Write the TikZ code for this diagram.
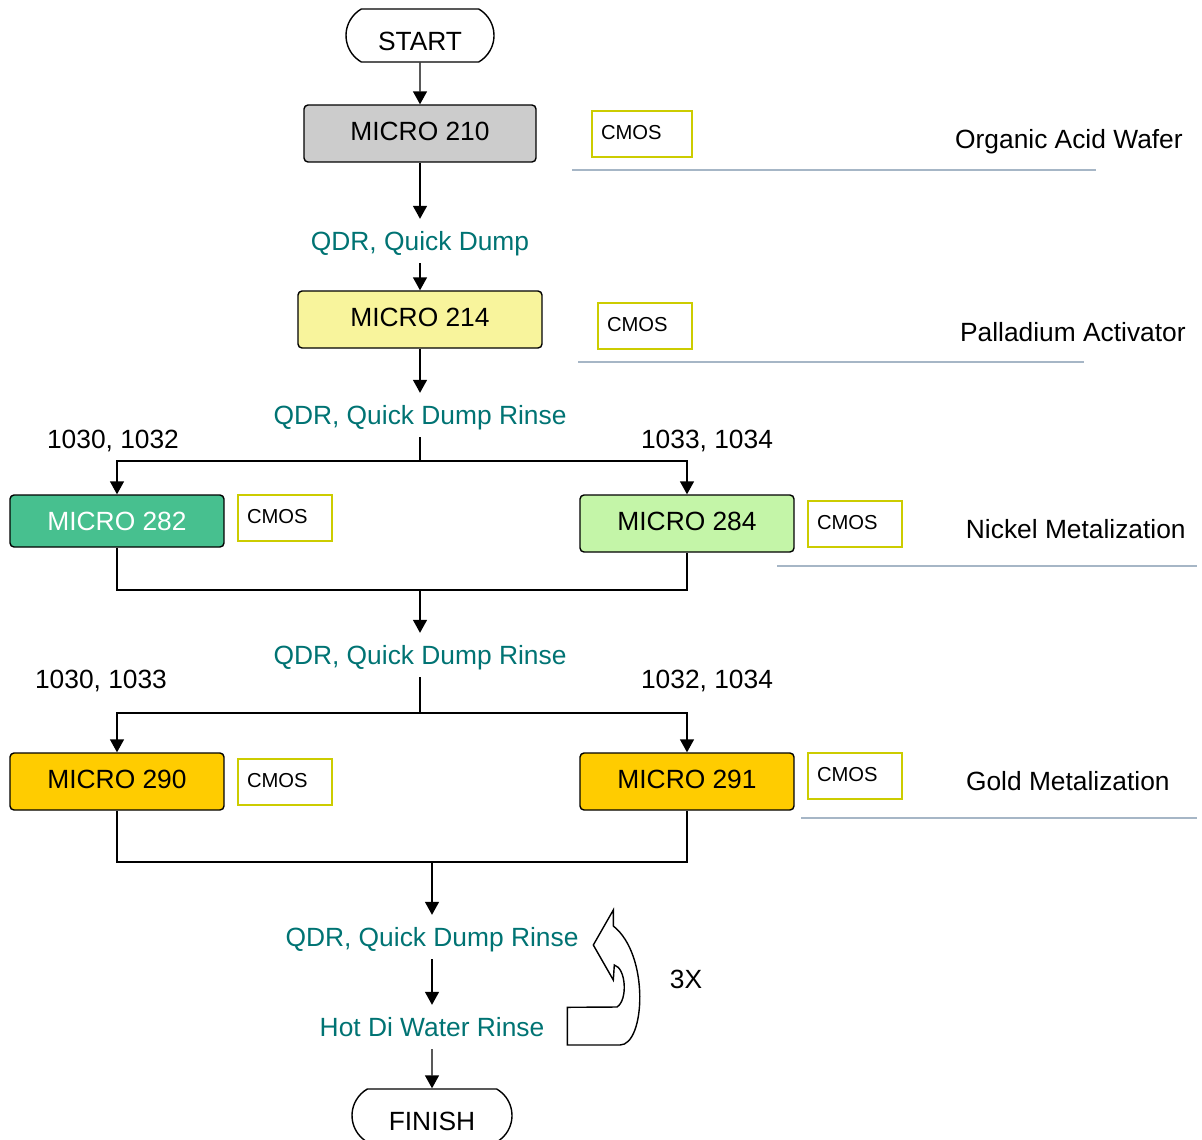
\documentclass[tikz,border=0pt]{standalone}
\usepackage{fontspec}
\setmainfont{Liberation Sans}
\usetikzlibrary{arrows.meta}
\usetikzlibrary{shapes.misc}

\definecolor{qdrteal}{HTML}{007373}
\definecolor{cmosyellow}{HTML}{CCCC00}
\definecolor{rulegray}{HTML}{A6B6C6}
\definecolor{microgray}{HTML}{CCCCCC}
\definecolor{microyellow}{HTML}{F8F49C}
\definecolor{microgreen}{HTML}{47C08F}
\definecolor{microlime}{HTML}{C4F5A8}
\definecolor{microgold}{HTML}{FFCC00}

\begin{document}
\begin{tikzpicture}[x=0.02cm,y=-0.02cm,
		every node/.style={font=\fontsize{15}{18}\selectfont,text depth=0pt},
		terminal/.style={draw,line width=0.8pt,rounded rectangle,rounded rectangle arc length=120,minimum height=1.06cm,inner sep=0pt,text height=17pt},
		micro/.style={draw,line width=0.8pt,rounded corners=0.08cm,minimum height=1.14cm,inner sep=0pt,text depth=2.5pt},
		cmos/.style={draw=cmosyellow,line width=0.9pt,font=\fontsize{11.5}{13}\selectfont,minimum height=0.92cm,text width=1.52cm,inner xsep=0.18cm,align=left,text depth=2pt},
		rinse/.style={text=qdrteal,inner ysep=7pt},
		stage/.style={anchor=east,inner sep=0pt},
		flow/.style={line width=0.8pt,-{Triangle[length=0.26cm,width=0.28cm]}},
		link/.style={line width=0.8pt},
		rule/.style={rulegray,line width=0.8pt}]
		\useasboundingbox (0,0) rectangle (1202,1139);
		\node[terminal,minimum width=2.96cm] (start) at (420,35.5) {START};
		\node[micro,fill=microgray,minimum width=4.64cm] (m210) at (420,133.5) {MICRO 210};
		\node[rinse] (q1) at (420,241) {QDR, Quick Dump};
		\node[micro,fill=microyellow,minimum width=4.88cm] (m214) at (420,319.5) {MICRO 214};
		\node[rinse] (q2) at (420,415) {QDR, Quick Dump Rinse};
		\coordinate (b1) at (420,461);
		\node (n1) at (113,439) {1030, 1032};
		\node (n2) at (707,439) {1033, 1034};
		\node[micro,fill=microgreen,text=white,minimum width=4.28cm,minimum height=1.04cm,text depth=0pt] (m282) at (117,521) {MICRO 282};
		\node[micro,fill=microlime,minimum width=4.28cm] (m284) at (687,523.5) {MICRO 284};
		\coordinate (j1) at (420,590);
		\node[rinse] (q3) at (420,655) {QDR, Quick Dump Rinse};
		\coordinate (b2) at (420,713);
		\node (n3) at (101,679) {1030, 1033};
		\node (n4) at (707,679) {1032, 1034};
		\node[micro,fill=microgold,minimum width=4.28cm] (m290) at (117,781.5) {MICRO 290};
		\node[micro,fill=microgold,minimum width=4.28cm] (m291) at (687,781.5) {MICRO 291};
		\coordinate (j2) at (432,862);
		\node[rinse] (q4) at (432,937) {QDR, Quick Dump Rinse};
		\node[rinse] (hot) at (432,1027) {Hot Di Water Rinse};
		\node[terminal,minimum width=3.2cm] (finish) at (432,1115.5) {FINISH};
		\node (times) at (686,979) {3X};

		\node[cmos,text width=1.64cm] (c210) at (642,134) {CMOS};
		\node[cmos] (c214) at (645,326) {CMOS};
		\node[cmos] (c282) at (285,518) {CMOS};
		\node[cmos] (c284) at (855,524) {CMOS};
		\node[cmos] (c290) at (285,782) {CMOS};
		\node[cmos] (c291) at (855,776) {CMOS};

		\node[stage] (s210) at (1183,139) {Organic Acid Wafer};
		\node[stage] (s214) at (1186,332) {Palladium Activator};
		\node[stage] (s28x) at (1186,529) {Nickel Metalization};
		\node[stage] (s29x) at (1170,781) {Gold Metalization};
		\draw[rule] (572,170) -- (1096,170);
		\draw[rule] (578,362) -- (1084,362);
		\draw[rule] (777,566) -- (1197,566);
		\draw[rule] (801,818) -- (1197,818);

		\draw[flow] (start) -- (m210);
		\draw[flow] (m210) -- (q1);
		\draw[flow] (q1) -- (m214);
		\draw[flow] (m214) -- (q2);
		\draw[link] (q2) -- (b1);
		\draw[flow] (b1) -| (m282);
		\draw[flow] (b1) -| (m284);
		\draw[link] (m282) |- (j1) -| (m284);
		\draw[flow] (j1) -- (q3);
		\draw[link] (q3) -- (b2);
		\draw[flow] (b2) -| (m290);
		\draw[flow] (b2) -| (m291);
		\draw[link] (m290) |- (j2) -| (m291);
		\draw[flow] (j2) -- (q4);
		\draw[flow] (q4) -- (hot);
		\draw[flow] (hot) -- (finish);

		\draw[line width=0.8pt] (613.3,910) -- (593.3,945) -- (613.3,980) -- (614.3,965)
			.. controls (626,968) and (628,1000) .. (617,1007) -- (567.3,1007.3) -- (567.3,1045)
			-- (620,1045) .. controls (645,1045) and (650,955) .. (613.3,926) -- cycle;
	\end{tikzpicture}
\end{document}
